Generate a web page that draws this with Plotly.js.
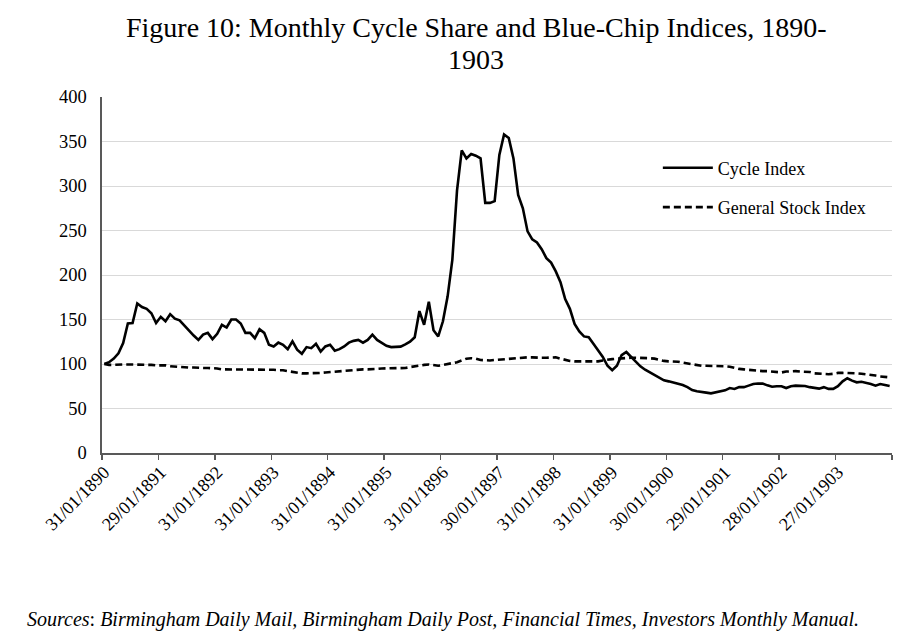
<!DOCTYPE html>
<html>
<head>
<meta charset="utf-8">
<script src="https://cdn.plot.ly/plotly-3.0.1.min.js"></script>
<style>
  html, body { margin: 0; padding: 0; background: #fff; }
  #chart { width: 909px; height: 643px; }
</style>
</head>
<body>
<div id="chart"></div>
<script>
/* Monthly index values, Jan 1890 - Dec 1903 (one row per year) */
const cycleIndex = [
    100, 102, 106, 112, 123.5, 145.5, 146, 168, 164, 162, 157, 146,
    153, 148, 156, 151, 149, 143, 137, 132, 127, 133, 135, 128,
    134, 144, 141, 150, 150, 145.5, 135, 135, 129, 139, 135, 121.6,
    119.7, 124, 121.6, 116.7, 125.4, 116, 111.4, 119, 117.8, 122.7, 114, 119.7,
    121.6, 115, 116.7, 119.7, 124, 126, 127, 124, 127, 133, 127, 124,
    120.5, 119, 119, 119.5, 122, 125, 130, 159.5, 144, 170, 138, 131,
    148, 176, 217, 295, 340, 331, 336, 334, 331, 281, 281, 283,
    335, 358, 354, 331, 290, 275, 249, 240, 236.5, 229, 219, 214,
    204, 192, 173, 162, 145, 136.5, 131, 130, 122.7, 116, 108, 98,
    93, 98, 110, 113.5, 108, 102, 97.4, 93.6, 90.6, 88, 85, 81.6,
    80.5, 79, 77.5, 76.4, 74, 70.8, 69.3, 68.2, 67.8, 67, 68.2, 69,
    70.4, 73, 72, 74, 74, 75.7, 77.5, 78, 78, 76, 74.5, 75,
    75, 73, 75, 75.7, 75.7, 75.3, 74, 73, 72.3, 74, 72, 72,
    75, 80.5, 84, 81.3, 79.4, 80, 79, 77.5, 75.7, 77.5, 76.4, 75.3
];

const stockIndex = [
    100, 99, 99, 99.5, 99.5, 99.5, 99.5, 99.5, 99, 99, 99, 98.5,
    98.5, 98.5, 97.5, 97, 96.5, 96.5, 96, 96, 95.5, 95.5, 95.5, 95.5,
    95, 94, 94, 93.5, 93.5, 93.5, 93.5, 93.5, 93.5, 93.5, 93.5, 93.5,
    93.5, 93, 93, 92, 91, 90, 89.5, 89.5, 89.5, 89.5, 90, 90.5,
    91, 91.5, 92, 92, 92.5, 93, 93.5, 94, 94, 94, 94.5, 95,
    95, 95.5, 95, 95, 95.5, 96.5, 97.5, 98, 99, 99.5, 98.5, 98,
    99, 100, 101, 102, 104, 106, 106.5, 106, 104.5, 104, 104, 104.5,
    105, 105, 105.5, 106.5, 107, 107.5, 107.5, 107.5, 107, 107, 107, 107,
    107.5, 106, 104.5, 103.5, 103, 103, 103, 102.5, 102.5, 103, 104, 105,
    105.5, 106, 106.5, 107, 107, 107, 107, 106.5, 106.5, 106, 104.5, 103.5,
    103, 103, 102.5, 101.5, 100.5, 99.5, 98.5, 98, 98, 98, 98, 98,
    97.5, 97, 95.5, 94.5, 94, 93.5, 92.5, 92, 92, 92, 91.5, 91,
    90.5, 91.5, 92, 92, 91.5, 91.5, 91, 89.5, 89, 88.5, 88.5, 89,
    90, 90, 90, 90, 89.5, 89, 88.5, 88, 87, 86, 85.5, 85
];

/* Labels shown on the January of each year */
const tickLabels = [
    '31/01/1890', '29/01/1891', '31/01/1892', '31/01/1893', '31/01/1894',
    '31/01/1895', '31/01/1896', '30/01/1897', '31/01/1898', '31/01/1899',
    '30/01/1900', '29/01/1901', '28/01/1902', '27/01/1903'
];

const months    = cycleIndex.map((_, i) => i);
const tickMonth = tickLabels.map((_, k) => k * 12);

const SERIF = 'Liberation Serif, Times New Roman, serif';
const AXIS_GREY = '#595959';

const traces = [
    {
        x: months, y: cycleIndex, name: 'Cycle Index',
        type: 'scatter', mode: 'lines',
        line: { color: '#000', width: 2.6 },
        legendgroup: 'a', hoverinfo: 'skip'
    },
    {
        x: months, y: stockIndex, name: 'General Stock Index',
        type: 'scatter', mode: 'lines',
        line: { color: '#000', width: 2.6, dash: '7px,4px' },
        legendgroup: 'b', hoverinfo: 'skip'
    }
];

const layout = {
    width: 909, height: 643,
    paper_bgcolor: '#fff', plot_bgcolor: '#fff',
    font: { family: SERIF, color: '#000', size: 16 },
    margin: { l: 102, r: 17, t: 97, b: 190 },
    /* title line 1; the wrapped year goes in an annotation to keep the tight line gap */
    title: {
        text: 'Figure 10: Monthly Cycle Share and Blue-Chip Indices, 1890-',
        font: { family: SERIF, size: 28, color: '#000' },
        x: 0.524, xanchor: 'center',
        y: 0.958, yanchor: 'middle'
    },
    xaxis: {
        range: [-0.5, 167.5],
        tickmode: 'array', tickvals: tickMonth, ticktext: tickLabels,
        tickangle: -45, ticks: '',
        tickfont: { family: SERIF, size: 18, color: '#000' },
        minor: { tick0: -0.5, dtick: 12, ticks: 'outside', ticklen: 5, tickwidth: 1.3, tickcolor: AXIS_GREY, showgrid: false },
        showgrid: false, zeroline: false,
        showline: true, linecolor: AXIS_GREY, linewidth: 1.6
    },
    yaxis: {
        range: [0, 400], dtick: 50,
        ticks: '', ticklabelstandoff: 10,
        tickfont: { family: SERIF, size: 18.5, color: '#000' },
        gridcolor: '#d9d9d9', gridwidth: 1,
        zeroline: false,
        showline: true, linecolor: AXIS_GREY, linewidth: 1.6
    },
    showlegend: true,
    legend: {
        x: 0.7036, xanchor: 'left',
        y: 0.8525, yanchor: 'top',
        bgcolor: 'rgba(0,0,0,0)',
        font: { family: SERIF, size: 18, color: '#000' },
        itemwidth: 50,
        traceorder: 'grouped', tracegroupgap: 13
    },
    annotations: [
        {
            text: '1903',
            xref: 'paper', yref: 'paper',
            x: 0.474, xanchor: 'center',
            y: 1.105, yanchor: 'middle',
            showarrow: false,
            font: { family: SERIF, size: 28, color: '#000' }
        },
        {
            text: '<i>Sources</i>: <i>Birmingham Daily Mail, Birmingham Daily Post, Financial Times, Investors Monthly Manual.</i>',
            xref: 'paper', yref: 'paper',
            x: -0.098, xanchor: 'left',
            y: -0.468, yanchor: 'middle',
            showarrow: false,
            font: { family: SERIF, size: 20, color: '#000' }
        }
    ]
};

Plotly.newPlot('chart', traces, layout, { displayModeBar: false, staticPlot: true });
</script>
</body>
</html>
